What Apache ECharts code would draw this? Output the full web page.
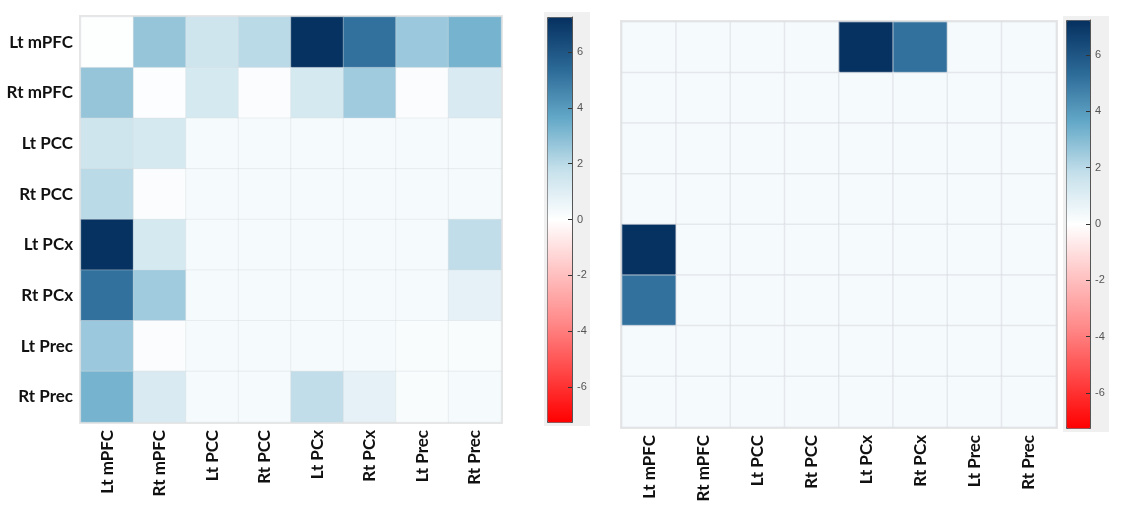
<!DOCTYPE html>
<html>
<head>
<meta charset="utf-8">
<script src="https://cdn.jsdelivr.net/npm/echarts@6/dist/echarts.min.js"></script>
<style>
html,body{margin:0;padding:0;background:#fff;}
#chart{width:1123px;height:514px;}
</style>
</head>
<body>
<div id="chart"></div>
<script>
// ---- data ----
const regions = ['Lt mPFC','Rt mPFC','Lt PCC','Rt PCC','Lt PCx','Rt PCx','Lt Prec','Rt Prec'];
const colorbarTicks = [-6,-4,-2,0,2,4,6];
const leftMatrix = [
  [0.05, 2.7, 1.5, 2.0, 7.2, 5.2, 2.6, 3.3],
  [2.7, 0.1, 1.3, 0.15, 1.3, 2.5, 0.15, 1.2],
  [1.5, 1.3, 0.3, 0.3, 0.3, 0.3, 0.3, 0.3],
  [2.0, 0.15, 0.3, 0.3, 0.3, 0.3, 0.3, 0.3],
  [7.2, 1.3, 0.3, 0.3, 0.3, 0.3, 0.3, 1.9],
  [5.2, 2.5, 0.3, 0.3, 0.3, 0.3, 0.3, 0.8],
  [2.6, 0.15, 0.3, 0.3, 0.3, 0.3, 0.2, 0.2],
  [3.3, 1.2, 0.3, 0.3, 1.9, 0.8, 0.2, 0.3]
];
const rightMatrix = [
  [0.3, 0.3, 0.3, 0.3, 7.2, 5.2, 0.3, 0.3],
  [0.3, 0.3, 0.3, 0.3, 0.3, 0.3, 0.3, 0.3],
  [0.3, 0.3, 0.3, 0.3, 0.3, 0.3, 0.3, 0.3],
  [0.3, 0.3, 0.3, 0.3, 0.3, 0.3, 0.3, 0.3],
  [7.2, 0.3, 0.3, 0.3, 0.3, 0.3, 0.3, 0.3],
  [5.2, 0.3, 0.3, 0.3, 0.3, 0.3, 0.3, 0.3],
  [0.3, 0.3, 0.3, 0.3, 0.3, 0.3, 0.3, 0.3],
  [0.3, 0.3, 0.3, 0.3, 0.3, 0.3, 0.3, 0.3]
];
const scaleMin = -7.25, scaleMax = 7.25;
const palette = ['#ff0000','#ff4646','#ff8a8a','#ffc4c4','#ffffff','#c5e0eb','#64a9c8','#2a6896','#05305f'];

function toCells(m){
  const out = [];
  m.forEach((row, r) => row.forEach((v, c) => out.push([c, r, v])));
  return out;
}

const labelFont = {fontFamily:'Lato', fontWeight:'bold', fontSize:17, color:'#111'};

function heatAxes(gridIndex, showY){
  return {
    x: {type:'category', gridIndex, data:regions, position:'bottom',
        axisLine:{show:false}, axisTick:{show:false},
        splitLine:{show:false},
        axisLabel:Object.assign({rotate:90, margin:8, interval:0}, labelFont)},
    y: {type:'category', gridIndex, data:regions, inverse:true,
        axisLine:{show:false}, axisTick:{show:false}, splitLine:{show:false},
        axisLabel:Object.assign({show:showY, margin:8, interval:0}, labelFont)}
  };
}
const a0 = heatAxes(0, true), a1 = heatAxes(1, false);

// colorbar tick axis: sits on the right edge of the bar, ticks point back into the bar
function cbAxis(gridIndex){
  return {type:'value', gridIndex, min:scaleMin, max:scaleMax, position:'left', z:10,
     axisLine:{show:true, lineStyle:{color:'#555', width:1}},
     axisTick:{show:true, inside:false, length:4, customValues:colorbarTicks, lineStyle:{color:'#333'}},
     axisLabel:{show:true, inside:true, customValues:colorbarTicks, margin:5, fontSize:11, color:'#555', fontFamily:'Liberation Sans'},
     splitLine:{show:false}};
}

const gridStyle = {show:true, backgroundColor:'#eef1f4', borderColor:'#e6e6e6', borderWidth:4};

const option = {
  animation:false,
  backgroundColor:'#ffffff',
  graphic:[
    {type:'rect', shape:{x:544, y:12, width:46, height:414}, style:{fill:'#f0f0f0'}, z:-1},
    {type:'rect', shape:{x:1063, y:16, width:46, height:416}, style:{fill:'#f0f0f0'}, z:-1}
  ],
  grid:[
    Object.assign({left:81, top:17, width:420, height:405}, gridStyle),
    Object.assign({left:622, top:22, width:434, height:405}, gridStyle),
    {left:572, top:17, width:10, height:405, show:false},
    {left:1090, top:20, width:10, height:408, show:false}
  ],
  xAxis:[a0.x, a1.x,
    {type:'value', gridIndex:2, show:false}, {type:'value', gridIndex:3, show:false}],
  yAxis:[a0.y, a1.y, cbAxis(2), cbAxis(3)],
  visualMap:[
    {type:'continuous', seriesIndex:0, min:scaleMin, max:scaleMax, calculable:false, hoverLink:false, z:1,
     left:547, top:17, itemWidth:25, itemHeight:405, padding:0, orient:'vertical',
     borderColor:'#555', borderWidth:1,
     text:null, textStyle:{color:'transparent'}, inRange:{color:palette}},
    {type:'continuous', seriesIndex:1, min:scaleMin, max:scaleMax, calculable:false, hoverLink:false, z:1,
     left:1066, top:20, itemWidth:24, itemHeight:408, padding:0, orient:'vertical',
     borderColor:'#555', borderWidth:1,
     text:null, textStyle:{color:'transparent'}, inRange:{color:palette}}
  ],
  series:[
    {type:'heatmap', xAxisIndex:0, yAxisIndex:0, data:toCells(leftMatrix),
     itemStyle:{borderColor:'rgba(215,220,226,0.4)', borderWidth:1}},
    {type:'heatmap', xAxisIndex:1, yAxisIndex:1, data:toCells(rightMatrix),
     itemStyle:{borderColor:'rgba(215,220,226,0.5)', borderWidth:1.5}}
  ]
};

const chart = echarts.init(document.getElementById('chart'), null, {renderer:'canvas'});
chart.setOption(option);
</script>
</body>
</html>
